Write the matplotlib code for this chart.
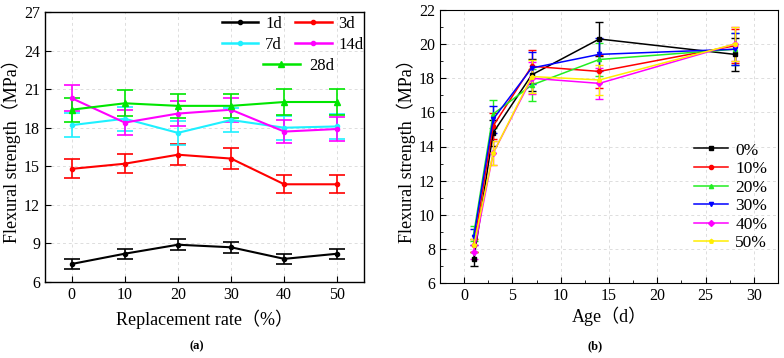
import matplotlib
matplotlib.use("Agg")
import matplotlib.pyplot as plt
import numpy as np
from matplotlib.ticker import MultipleLocator
from matplotlib.lines import Line2D

plt.rcParams['font.family'] = ['Liberation Serif', 'Noto Sans CJK SC', 'DejaVu Sans']

rates = [0, 10, 20, 30, 40, 50]
ages = [1, 3, 7, 14, 28]
age_labels = ['1d', '3d', '7d', '14d', '28d']
rate_labels = ['0%', '10%', '20%', '30%', '40%', '50%']

s1d = [7.4, 8.2, 8.9, 8.7, 7.8, 8.2]
s3d = [14.8, 15.2, 15.9, 15.6, 13.6, 13.6]
s7d = [18.2, 18.7, 17.6, 18.6, 18.0, 18.1]
s14d = [20.3, 18.4, 19.1, 19.4, 17.7, 17.9]
s28d = [19.4, 19.9, 19.7, 19.7, 20.0, 20.0]

e1d = [0.4, 0.4, 0.45, 0.45, 0.4, 0.4]
e3d = [0.75, 0.75, 0.8, 0.8, 0.7, 0.7]
e7d = [0.95, 0.95, 0.95, 0.95, 0.95, 0.95]
e14d = [1.0, 0.95, 0.95, 0.95, 0.9, 0.9]
e28d = [0.95, 1.0, 0.95, 0.95, 1.0, 1.0]

vals = [s1d, s3d, s7d, s14d, s28d]
errs = [e1d, e3d, e7d, e14d, e28d]

left_colors = ['#000000', '#ff0000', '#1ef0ff', '#ff00ff', '#00e600']
left_markers = ['o', 'o', 'o', 'o', '^']
left_ms = [3, 3, 3, 3, 5]

right_colors = ['#000000', '#ff0000', '#22ee22', '#0000ff', '#ff00ff', '#ffee00']
right_markers = ['s', 'o', '^', 'v', 'D', 'p']

fig = plt.figure(figsize=(7.84, 3.58), dpi=100)

# ---------- panel (a) ----------
ax1 = fig.add_axes([45/784, 76/358, 319/784, 270/358])
handles = []
for i in range(5):
    ax1.errorbar(rates, vals[i], yerr=errs[i], color=left_colors[i], marker=left_markers[i],
                 ms=left_ms[i], lw=1.5, capsize=6, capthick=1.2, elinewidth=1.2, zorder=3)
    handles.append(Line2D([], [], color=left_colors[i], marker=left_markers[i], ms=left_ms[i], lw=1.8))
ax1.set_xlim(-5, 55)
ax1.set_ylim(6, 27)
ax1.xaxis.set_major_locator(MultipleLocator(10))
ax1.yaxis.set_major_locator(MultipleLocator(3))
ax1.tick_params(direction='in', labelsize=11.5, length=4)
ax1.grid(True, ls=(0, (3, 3)), color='#dddddd', lw=0.7)
ax1.set_axisbelow(True)
ax1.set_xlabel('Replacement rate（%）', fontsize=13, labelpad=5)
ax1.set_ylabel('Flexural strength（MPa）', fontsize=13, labelpad=2)
leg1 = ax1.legend([handles[0], handles[2], handles[1], handles[3]],
                  [age_labels[0], age_labels[2], age_labels[1], age_labels[3]],
                  ncol=2, loc='upper right', bbox_to_anchor=(1.03, 1.022), frameon=False,
                  fontsize=12, handlelength=2.2, columnspacing=0.8, handletextpad=0.4,
                  labelspacing=0.3, borderaxespad=0.2)
ax1.add_artist(leg1)
ax1.legend([handles[4]], [age_labels[4]], loc='upper left', bbox_to_anchor=(0.652, 0.867),
           frameon=False, fontsize=12, handlelength=2.2, handletextpad=0.6, borderaxespad=0.2)
for sp in ax1.spines.values():
    sp.set_linewidth(1.0)
fig.text(197/784, 1 - 346/358, '(a)', ha='center', va='center', fontsize=9, fontweight='bold')

# ---------- panel (b) ----------
ax2 = fig.add_axes([440/784, 75/358, 338/784, 273/358])
rhandles = []
for j in range(6):
    yv = [vals[i][j] for i in range(5)]
    ye = [errs[i][j] for i in range(5)]
    ax2.errorbar(ages, yv, yerr=ye, color=right_colors[j], marker=right_markers[j], ms=3,
                 lw=1.1, capsize=3, capthick=1.0, elinewidth=1.0, zorder=3)
    rhandles.append(Line2D([], [], color=right_colors[j], marker=right_markers[j], ms=3, lw=1.1))
ax2.set_xlim(-2.5, 32.5)
ax2.set_ylim(6, 22)
ax2.xaxis.set_major_locator(MultipleLocator(5))
ax2.xaxis.set_minor_locator(MultipleLocator(2.5))
ax2.yaxis.set_major_locator(MultipleLocator(2))
ax2.yaxis.set_minor_locator(MultipleLocator(1))
ax2.tick_params(which='both', direction='in', labelsize=11.5)
ax2.tick_params(which='major', length=4)
ax2.tick_params(which='minor', length=2.5)
ax2.grid(True, ls=(0, (3, 3)), color='#dddddd', lw=0.7)
ax2.set_axisbelow(True)
ax2.set_xlabel('Age（d）', fontsize=13, labelpad=2)
ax2.set_ylabel('Flexural strength（MPa）', fontsize=13, labelpad=2)
ax2.legend(rhandles, rate_labels, loc='lower left', bbox_to_anchor=(0.73, 0.09), frameon=False,
           fontsize=12.5, handlelength=2.0, handletextpad=0.4, labelspacing=0.14,
           borderaxespad=0.0)
fig.text(595/784, 1 - 346/358, '(b)', ha='center', va='center', fontsize=9, fontweight='bold')

fig.savefig('out.png', dpi=100)
